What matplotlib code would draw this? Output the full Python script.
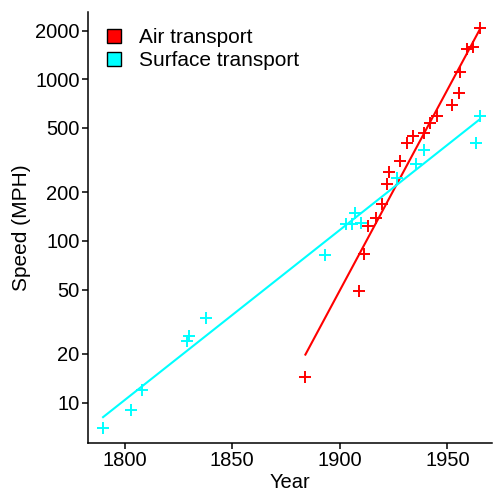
import numpy as np
import matplotlib
matplotlib.use('Agg')
import matplotlib.pyplot as plt
from matplotlib.patches import Patch
from matplotlib.ticker import FixedLocator, NullLocator

plt.rcParams['font.family'] = ['Liberation Sans', 'DejaVu Sans']

# ── datos ─────────────────────────────────────────────────
air_year = [1884, 1909, 1911, 1913, 1917, 1919.5, 1922, 1923, 1928, 1931,
            1934, 1939, 1942, 1945, 1952, 1955.4, 1955.8, 1959, 1961.7, 1965]
air_speed = [14.4, 49, 83, 124, 138, 169, 225, 266, 314, 402,
             446, 467, 535, 593, 693, 819, 1114, 1535, 1593, 2065]

surf_year = [1790, 1803, 1808, 1829, 1830, 1838, 1893, 1903, 1905.5, 1907,
             1910, 1926.4, 1935.4, 1939, 1963.3, 1965]
surf_speed = [7, 9, 12, 24, 26, 33.6, 82, 128, 128, 148,
              130, 244, 299, 365, 402, 593]

y_ticks = [10, 20, 50, 100, 200, 500, 1000, 2000]
x_ticks = [1800, 1850, 1900, 1950]

RED = '#ff0000'
CYAN = '#00ffff'

fig = plt.figure(figsize=(4.93, 4.93), dpi=100)
ax = fig.add_axes([0.1785, 0.1014, 0.8195, 0.8743])


def fit_line(x, y):
    x = np.asarray(x, float)
    b, a = np.polyfit(x, np.log10(y), 1)
    xs = np.array([x.min(), x.max()])
    return xs, 10 ** (a + b * xs)


for xs, ys, col in [(air_year, air_speed, RED), (surf_year, surf_speed, CYAN)]:
    ax.plot(xs, ys, linestyle='none', marker='+', markersize=9,
            markeredgewidth=1.4, color=col)
    lx, ly = fit_line(xs, ys)
    ax.plot(lx, ly, color=col, linewidth=1.5)

ax.set_yscale('log')
ax.set_ylim(5.63, 2608)
ax.set_xlim(1783, 1970.7)
ax.yaxis.set_major_locator(FixedLocator(y_ticks))
ax.yaxis.set_minor_locator(NullLocator())
ax.set_yticklabels([str(t) for t in y_ticks])
ax.set_xticks(x_ticks)

for s in ['top', 'right']:
    ax.spines[s].set_visible(False)
for s in ['left', 'bottom']:
    ax.spines[s].set_linewidth(1.1)
ax.tick_params(axis='both', length=4, width=1.1, labelsize=14.5,
               colors='black', pad=2)

ax.set_xlabel('Year', fontsize=14.5, labelpad=2)
ax.set_ylabel('Speed (MPH)', fontsize=15, labelpad=3)

handles = [Patch(facecolor=RED, edgecolor='black', label='Air transport'),
           Patch(facecolor=CYAN, edgecolor='black', label='Surface transport')]
ax.legend(handles=handles, loc='upper left', frameon=False, fontsize=15,
          handlelength=0.68, handleheight=0.68, handletextpad=0.85,
          labelspacing=0.2, borderpad=0, borderaxespad=0,
          bbox_to_anchor=(107 / 493, 1 - 28 / 493),
          bbox_transform=fig.transFigure)

fig.savefig('out.png', dpi=100)
